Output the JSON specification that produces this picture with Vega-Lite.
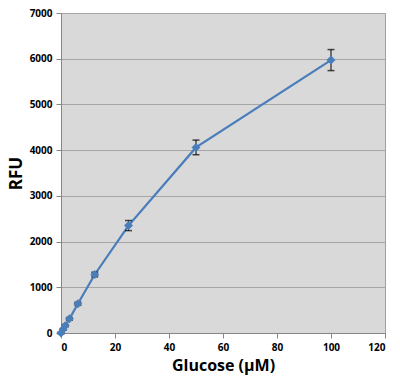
{
  "$schema": "https://vega.github.io/schema/vega-lite/v6.json",
  "width": 324,
  "height": 320,
  "autosize": "none",
  "padding": {"left": 61, "top": 13, "right": 15, "bottom": 44},
  "background": "white",
  "config": {
    "view": {"fill": "#d9d9d9", "stroke": "#a0a0a0", "strokeWidth": 1},
    "font": "Open Sans"
  },
  "data": {
    "values": [
      {"glucose": 0, "rfu": 0, "lo": -20, "hi": 20},
      {"glucose": 0.78, "rfu": 80, "lo": 60, "hi": 100},
      {"glucose": 1.56, "rfu": 160, "lo": 135, "hi": 185},
      {"glucose": 3.125, "rfu": 310, "lo": 280, "hi": 340},
      {"glucose": 6.25, "rfu": 640, "lo": 605, "hi": 675},
      {"glucose": 12.5, "rfu": 1280, "lo": 1230, "hi": 1330},
      {"glucose": 25, "rfu": 2350, "lo": 2240, "hi": 2460},
      {"glucose": 50, "rfu": 4060, "lo": 3900, "hi": 4220},
      {"glucose": 100, "rfu": 5970, "lo": 5740, "hi": 6200}
    ]
  },
  "encoding": {
    "x": {
      "field": "glucose", "type": "quantitative",
      "scale": {"domain": [0, 120], "nice": false, "zero": true},
      "axis": {
        "title": "Glucose (μM)", "values": [0, 20, 40, 60, 80, 100, 120], "format": "d",
        "grid": false, "domainColor": "#868686", "tickColor": "#868686", "tickSize": 5,
        "labelFont": "Open Sans", "labelFontWeight": "bold", "labelFontSize": 10, "labelColor": "#000000",
        "labelPadding": 4,
        "titleFont": "Open Sans", "titleFontWeight": "bold", "titleFontSize": 16, "titleColor": "#000000",
        "titlePadding": 5
      }
    },
    "y": {
      "field": "rfu", "type": "quantitative",
      "scale": {"domain": [0, 7000], "nice": false},
      "axis": {
        "title": "RFU", "values": [0, 1000, 2000, 3000, 4000, 5000, 6000, 7000], "format": "d",
        "grid": true, "gridColor": "#a6a6a6", "gridWidth": 1,
        "domainColor": "#868686", "tickColor": "#868686", "tickSize": 5,
        "labelFont": "Open Sans", "labelFontWeight": "bold", "labelFontSize": 10, "labelColor": "#000000",
        "labelPadding": 4,
        "titleFont": "Open Sans", "titleFontWeight": "bold", "titleFontSize": 17, "titleColor": "#000000",
        "titlePadding": 4
      }
    }
  },
  "layer": [
    {"mark": {"type": "line", "color": "#4a7ebb", "strokeWidth": 2.25}},
    {
      "mark": {"type": "rule", "color": "#000000", "strokeWidth": 1},
      "encoding": {"y": {"field": "lo", "type": "quantitative"}, "y2": {"field": "hi"}}
    },
    {
      "mark": {"type": "tick", "orient": "horizontal", "color": "#000000", "size": 7, "thickness": 1.5},
      "encoding": {"y": {"field": "lo", "type": "quantitative"}}
    },
    {
      "mark": {"type": "tick", "orient": "horizontal", "color": "#000000", "size": 7, "thickness": 1.5},
      "encoding": {"y": {"field": "hi", "type": "quantitative"}}
    },
    {"mark": {"type": "point", "shape": "diamond", "filled": true, "color": "#4a7ebb", "size": 80, "opacity": 1}}
  ]
}
